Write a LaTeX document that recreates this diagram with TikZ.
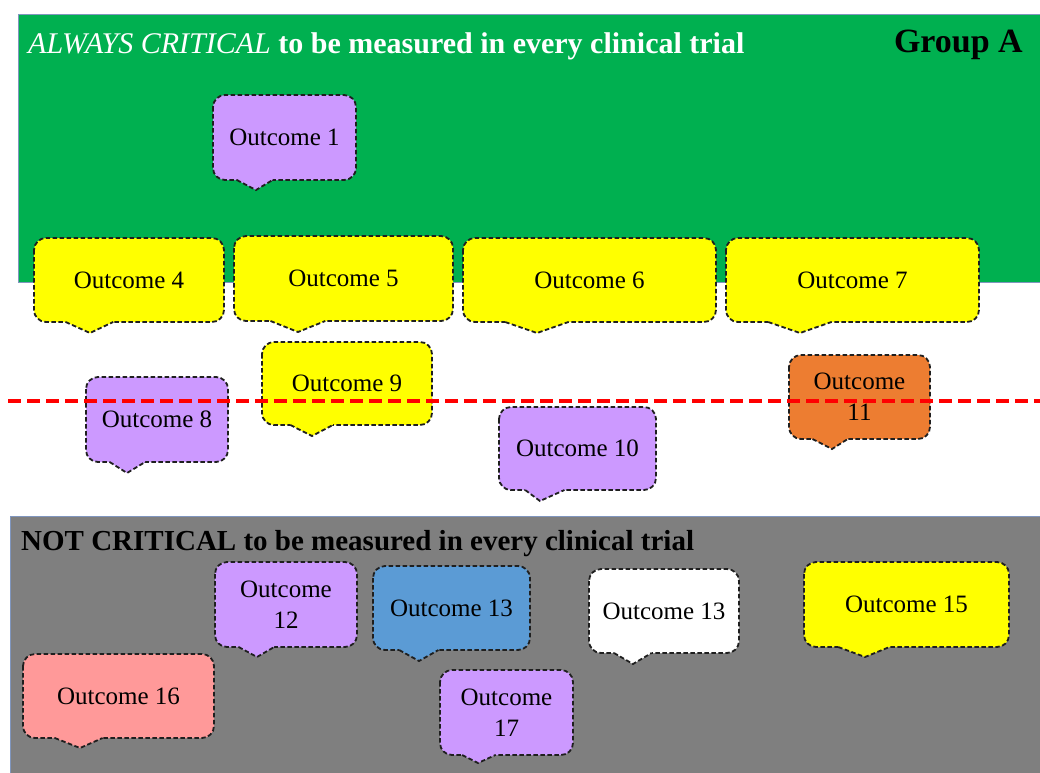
\documentclass[tikz,border=0pt]{standalone}
\usepackage{fontspec}
\setmainfont{Liberation Serif}
\definecolor{grpgreen}{HTML}{00B050}
\definecolor{grpgray}{HTML}{7F7F7F}
\definecolor{cyellow}{HTML}{FFFF00}
\definecolor{cpurple}{HTML}{CC99FF}
\definecolor{corange}{HTML}{ED7D31}
\definecolor{cblue}{HTML}{5B9BD5}
\definecolor{cpink}{HTML}{FF9999}
\definecolor{edgeblue}{HTML}{8096BE}
\tikzset{
  callbox/.style={draw=black!88, line width=1.8pt, dash pattern=on 4.5pt off 2.5pt, rounded corners=12pt},
  calledge/.style={draw=black!88, line width=1.8pt, dash pattern=on 4.5pt off 2.5pt},
  calltext/.style={font=\fontsize{25}{31}\selectfont, text=black, align=center, inner sep=0pt},
  panel/.style={draw=edgeblue, line width=1pt},
}
\newcommand{\outbox}[9]{%
  \pgfmathsetmacro\obw{#4-#2}%
  \pgfmathsetmacro\obxa{#2+\obw/6}%
  \pgfmathsetmacro\obxb{#2+5*\obw/12}%
  \path[callbox, fill=#8] (#2,#3) rectangle (#4,#5);
  \fill[#8] (\obxa,#5-1.6) -- (\obxa,#5) -- (#6,#7) -- (\obxb,#5) -- (\obxb,#5-1.6) -- cycle;
  \draw[calledge] (\obxa,#5) -- (#6,#7) -- (\obxb,#5);
  \node[calltext] (#1) at ({(#2+#4)/2},{(#3+#5)/2}) {#9};
}
\begin{document}
\begin{tikzpicture}[x=1pt,y=-1pt]
\useasboundingbox (0,0) rectangle (1040,772);
\fill[white] (0,0) rectangle (1040,772);
% panels
\path[panel, fill=grpgreen] (18,14) rectangle (1045,282);
\path[panel, fill=grpgray] (10,516) rectangle (1045,777);
\node[anchor=base west, inner sep=0pt, text=white, font=\fontsize{30}{36}\selectfont] (titleA) at (28,53)
  {{\itshape ALWAYS CRITICAL} \textbf{to be measured in every clinical trial}};
\node[anchor=base east, inner sep=0pt, font=\fontsize{34}{40}\selectfont\bfseries] (groupA) at (1023,52) {Group A};
\node[anchor=base west, inner sep=0pt, font=\fontsize{29}{35}\selectfont\bfseries] (titleN) at (21,550)
  {NOT CRITICAL to be measured in every clinical trial};
% callouts
\outbox{o1}{213}{95}{356}{180}{256}{190}{cpurple}{Outcome 1}
\outbox{o4}{34}{238}{224}{322}{90}{333}{cyellow}{Outcome 4}
\outbox{o5}{234}{236}{453}{321}{298}{332}{cyellow}{Outcome 5}
\outbox{o6}{463}{238}{716}{322}{537}{333}{cyellow}{Outcome 6}
\outbox{o7}{726}{238}{979}{322}{800}{333}{cyellow}{Outcome 7}
\outbox{o9}{262}{342}{432}{425}{312}{436}{cyellow}{Outcome 9}
\outbox{o8}{86}{377}{228}{462}{127}{473}{cpurple}{Outcome 8}
\outbox{o10}{499}{407}{656}{490}{540}{501}{cpurple}{Outcome 10}
\outbox{o11}{789}{355}{930}{439}{832}{449}{corange}{Outcome\\11}
\outbox{o12}{215}{562}{357}{647}{257}{657}{cpurple}{Outcome\\12}
\outbox{o13}{373}{566}{530}{650}{419}{661}{cblue}{Outcome 13}
\outbox{o13w}{589}{569}{739}{653}{633}{664}{white}{Outcome 13}
\outbox{o15}{804}{562}{1009}{647}{865}{657}{cyellow}{Outcome 15}
\outbox{o16}{23}{654}{214}{738}{80}{748}{cpink}{Outcome 16}
\outbox{o17}{440}{670}{573}{755}{478}{763}{cpurple}{Outcome\\17}
% threshold line
\coordinate (lineL) at (8,401);
\coordinate (lineR) at (1040,401);
\draw[red, line width=4pt, dash pattern=on 13pt off 6pt] (lineL) -- (lineR);
\end{tikzpicture}
\end{document}
